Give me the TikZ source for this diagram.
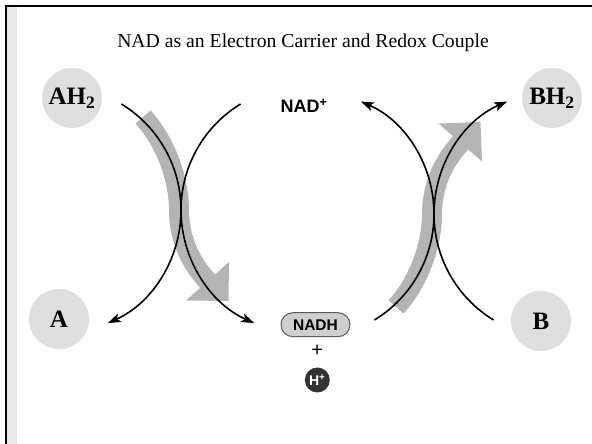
\documentclass[tikz,border=0pt]{standalone}
\usepackage{fontspec}
\setmainfont{Liberation Serif}
\newfontfamily\labsans{Liberation Sans}
\usetikzlibrary{arrows.meta}
\definecolor{circgray}{HTML}{DEDEDE}
\definecolor{bandgray}{HTML}{B4B4B4}
\definecolor{stripgray}{HTML}{E8E8E8}
\definecolor{nadhfill}{HTML}{CFCFCF}
\definecolor{nadhdraw}{HTML}{5A5A5A}
\definecolor{hdark}{HTML}{333333}
\begin{document}
\begin{tikzpicture}[x=1pt,y=-1pt,
  mol/.style={circle, fill=circgray, minimum size=60pt, inner sep=0pt,
    font=\fontsize{25}{25}\selectfont\bfseries},
  carrier/.style={-{Stealth[length=13pt,width=9pt,inset=3pt]}, line width=1.6pt, black},
  bandline/.style={draw=bandgray, line width=20pt},
  bandhead/.style={fill=bandgray},
  frameline/.style={line width=2.3pt, black},
]
\useasboundingbox (0,0) rectangle (592,444);
% frame
\fill[stripgray] (7,7) rectangle (16.7,444);
\draw[frameline] (6,446) -- (6,6) -- (594,6);

% title
\node[font=\fontsize{19.7}{20}\selectfont, anchor=base] (title) at (303,48)
  {NAD as an Electron Carrier and Redox Couple};

% molecules
\node[mol] (AH2) at (72,98) {AH\textsubscript{2}};
\node[mol] (BH2) at (552,98) {BH\textsubscript{2}};
\node[mol] (A) at (59,319) {A};
\node[mol] (B) at (541,321) {B};

% carriers
\node[font=\labsans\bfseries\fontsize{18}{18}\selectfont] (NAD) at (304,106) {NAD\textsuperscript{+}};
\node[draw=nadhdraw, fill=nadhfill, line width=1pt, rounded corners=12pt,
  minimum width=69pt, minimum height=24pt, inner sep=0pt,
  font=\labsans\bfseries\fontsize{15.5}{15.5}\selectfont] (NADH) at (315.5,324.7) {NADH};
\node[font=\labsans\fontsize{20}{20}\selectfont] (plus) at (317.3,350.5) {+};
\node[circle, fill=hdark, minimum size=25pt, inner sep=0pt, text=white,
  font=\labsans\bfseries\fontsize{14}{14}\selectfont] (Hp) at (317.3,380) {H\textsuperscript{+}};

% coordinates for connector ends
\coordinate (L1s) at (121.4,104);
\coordinate (L1e) at (107.8,323.1);
\coordinate (L2s) at (240.6,104);
\coordinate (L2e) at (254.2,323.1);
\coordinate (Lmid) at (181,210);
\coordinate (R1s) at (374.4,320);
\coordinate (R1e) at (360.8,101.5);
\coordinate (R2s) at (493.6,320);
\coordinate (R2e) at (507.2,101.5);
\coordinate (Rmid) at (434,214);

% gray bands (electron transfer)
\coordinate (gL0) at (143,117);
\coordinate (gLm) at (179,210);
\coordinate (gLe) at (209.6,283.1);
\draw[bandline] (gL0) .. controls (166.5,142.9) and (179,180) .. (gLm)
  .. controls (179,240) and (191.9,265.4) .. (gLe);
\fill[bandhead] (228.5,301) -- (229,262) -- (186,300.5) -- cycle;

\coordinate (gR0) at (396,307);
\coordinate (gRm) at (432,214);
\coordinate (gRe) at (462.6,140.9);
\draw[bandline] (gR0) .. controls (419.5,281.1) and (432,244) .. (gRm)
  .. controls (432,184) and (444.9,158.6) .. (gRe);
\fill[bandhead] (480.5,122) -- (482,161.5) -- (438.5,123.5) -- cycle;

% black carrier curves
\draw[carrier] (L1s) .. controls (158.4,126.5) and (181,166.7) .. (Lmid)
  .. controls (181,258.8) and (152.3,303.1) .. (L1e);
\draw[carrier] (L2s) .. controls (203.6,126.5) and (181,166.7) .. (Lmid)
  .. controls (181,258.8) and (209.7,303.1) .. (L2e);
\draw[carrier] (R1s) .. controls (411.4,297.5) and (434,257.3) .. (Rmid)
  .. controls (434,165.2) and (405.3,120.9) .. (R1e);
\draw[carrier] (R2s) .. controls (456.6,297.5) and (434,257.3) .. (Rmid)
  .. controls (434,165.2) and (462.7,120.9) .. (R2e);
\end{tikzpicture}
\end{document}
